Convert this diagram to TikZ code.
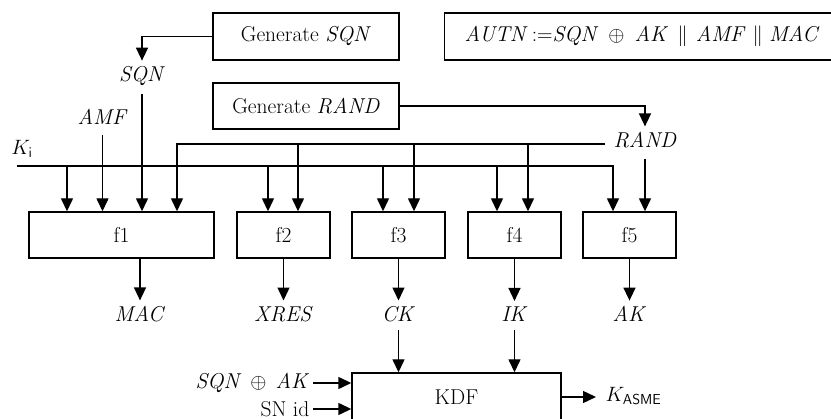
\documentclass[tikz,border=0pt]{standalone}
\usetikzlibrary{arrows.meta}
\begin{document}
\begin{tikzpicture}[x=1pt, y=-1pt, line width=1.4pt,
  txt/.style={font=\fontsize{21.5}{25}\selectfont, inner sep=0pt},
  lbl/.style={txt, inner xsep=0pt, inner ysep=5pt},
  blk/.style={txt, draw, rectangle},
  arr/.style={-{Triangle[length=13pt, width=12pt]}},
]
\useasboundingbox (0,0) rectangle (831,419);
\clip (0,0) rectangle (831,419);

% generators and the AUTN formula
\node[blk, minimum width=186, minimum height=47] (gsqn) at (306,36.5) {Generate \textit{SQN}};
\node[blk, minimum width=186, minimum height=46] (grand) at (306,106) {Generate \textit{RAND}};
\node[blk, anchor=west, minimum height=47, inner xsep=0pt, align=left, text width=430] (autn) at (444,36.5)
  {\hspace*{20pt}\textit{AUTN}\hspace{4pt}:=\textit{SQN}\hspace{10pt}$\oplus$\hspace{10pt}\textit{AK}\hspace{9pt}$\|$\hspace{8pt}\textit{AMF}\hspace{7pt}$\|$\hspace{6pt}\textit{MAC}};

% input labels
\node[lbl] (sqn) at (142,76) {\textit{SQN}};
\node[lbl] (amf) at (102.5,117) {\textit{AMF}};
\node[txt] (ki) at (22,149) {$K_{\mathsf{i}}$};
\node[lbl] (rand) at (645,140) {\textit{RAND}};

% function blocks
\node[blk, minimum width=185, minimum height=46] (f1) at (121.5,235) {f1};
\node[blk, minimum width=93, minimum height=46] (f2) at (283.5,235) {f2};
\node[blk, minimum width=93, minimum height=46] (f3) at (398.5,235) {f3};
\node[blk, minimum width=93, minimum height=46] (f4) at (514.5,235) {f4};
\node[blk, minimum width=93, minimum height=46] (f5) at (629.5,235) {f5};

% outputs
\node[lbl] (mac) at (140,314) {\textit{MAC}};
\node[lbl] (xres) at (283.5,314) {\textit{XRES}};
\node[lbl] (ck) at (398.5,314) {\textit{CK}};
\node[lbl] (ik) at (514.5,314) {\textit{IK}};
\node[lbl] (ak) at (629.5,314) {\textit{AK}};

% key derivation
\node[blk, minimum width=209, minimum height=48] (kdf) at (456.5,397) {KDF};
\node[txt, anchor=east] (sqnak) at (310,383) {\textit{SQN}\hspace{9pt}$\oplus$\hspace{9pt}\textit{AK}};
\node[txt, anchor=east] (snid) at (310,409) {SN id};
\node[txt, anchor=west] (kasme) at (605,396) {$K_{\mathsf{ASME}}$};

% bus start points
\coordinate (kb) at (17,166);
\coordinate (rb) at (605,144);

% SQN, AMF and RAND feeds
\draw[arr] (gsqn.west) -| (sqn.north);
\draw[arr] ([yshift=-3pt]sqn.south) -- (sqn.south |- f1.north);
\draw[arr] ([yshift=-5pt]amf.south) -- (amf.south |- f1.north);
\draw[arr] (grand.east) -| (rand.north);
\draw[arr] ([yshift=-5pt]rand.south) -- (rand.south |- f5.north);

% K_i bus
\draw[arr] (kb) -| ([xshift=-16.5pt]f5.north);
\foreach \b/\dx in {f1/-54.5, f2/-15.5, f3/-15.5, f4/-17.5}
  \draw[arr] ([xshift=\dx pt]\b.north |- kb) -- ([xshift=\dx pt]\b.north);

% RAND bus
\draw[arr] (rb) -| ([xshift=55.5pt]f1.north);
\foreach \b/\dx in {f2/14.5, f3/15.5, f4/13.5}
  \draw[arr] ([xshift=\dx pt]\b.north |- rb) -- ([xshift=\dx pt]\b.north);

% block outputs
\foreach \b/\o in {f1/mac, f2/xres, f3/ck, f4/ik, f5/ak}
  \draw[arr] (\o.north |- \b.south) -- (\o.north);

% KDF connections
\draw[arr] ([yshift=-3pt]ck.south) -- (ck.south |- kdf.north);
\draw[arr] ([yshift=-3pt]ik.south) -- (ik.south |- kdf.north);
\draw[arr] ([xshift=3pt]sqnak.east) -- (sqnak.east -| kdf.west);
\draw[arr] ([xshift=3pt]snid.east) -- (snid.east -| kdf.west);
\draw[arr] (kdf.east) -- ([xshift=-9pt]kasme.west |- kdf.east);
\end{tikzpicture}
\end{document}
